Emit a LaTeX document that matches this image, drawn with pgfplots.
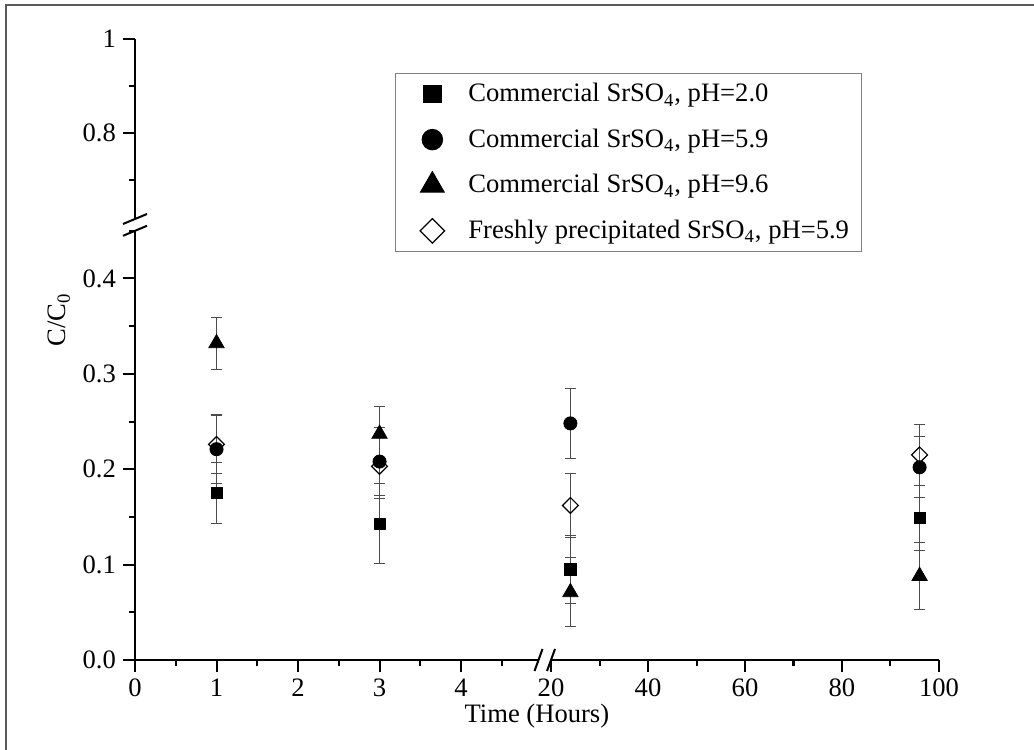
\documentclass[border=0pt]{standalone}
\usepackage{fontspec}
\setmainfont{Liberation Serif}
\usepackage{pgfplots}
\usepackage{pgfplotstable}
\pgfplotsset{compat=1.18}

\pgfplotstableread{
x y e
1 0.175 0.032
3 0.143 0.042
24 0.095 0.036
96 0.149 0.034
}\sqdata
\pgfplotstableread{
x y e
1 0.221 0.036
3 0.208 0.036
24 0.248 0.037
96 0.202 0.032
}\cidata
\pgfplotstableread{
x y e
1 0.332 0.027
3 0.237 0.029
24 0.071 0.036
96 0.088 0.035
}\trdata
\pgfplotstableread{
x y e
1 0.226 0.030
3 0.203 0.034
24 0.162 0.034
96 0.215 0.032
}\didata

\newcommand{\fs}{\fontsize{13.3}{16}\selectfont}
\pgfplotsset{
  base/.style={
    scale only axis,
    anchor=south west,
    tick align=outside,
    axis line style={line width=1.1pt},
    every tick/.style={black, line width=1pt},
    major tick length=6pt,
    minor tick length=3pt,
    font=\fs,
    tick label style={font=\fs},
    /pgf/number format/assume math mode=true,
  },
  serr/.style={error bars/.cd, y dir=both, y explicit,
     error bar style={line width=0.5pt, black!70},
     error mark options={rotate=90, mark size=2.9pt, line width=0.5pt, black!70}},
  psq/.style={only marks, mark=square*, mark size=2.8pt, mark options={fill=black,draw=black}, black},
  pci/.style={only marks, mark=*, mark size=3.3pt, mark options={fill=black,draw=black}, black},
  ptr/.style={only marks, mark=triangle*, mark size=4.4pt, mark options={fill=black,draw=black}, black},
  pdi/.style={only marks, mark=square, mark size=2.8pt, mark options={rotate=45, fill=white,draw=black,line width=0.6pt}, black},
}

\begin{document}
\begin{tikzpicture}
\useasboundingbox (0,0) rectangle (517pt,375pt);
% frame
\draw[black!65, line width=1.2pt] (3pt,0pt) -- (3pt,372.5pt) -- (517pt,372.5pt);

% lower left
\begin{axis}[base,
  at={(67.5pt,45pt)}, width=201.75pt, height=214.65pt,
  axis lines*=left,
  xmin=0, xmax=4.95, ymin=0, ymax=0.45,
  xtick={0,1,2,3,4}, minor xtick={0.5,1.5,2.5,3.5,4.5},
  ytick={0,0.1,0.2,0.3,0.4}, minor ytick={0.05,0.15,0.25,0.35,0.45},
  yticklabel style={/pgf/number format/fixed, /pgf/number format/fixed zerofill, /pgf/number format/precision=1},
  xlabel={Time (Hours)},
  xlabel style={at={(axis description cs:0.996,-0.13)}, anchor=center},
  legend cell align=left,
  legend image code/.code={\path[draw=none,fill=none] (0pt,-3pt) rectangle (30.5pt,3pt);
    \draw[mark repeat=2,mark phase=2,#1,every mark/.append style={scale=1.55}] plot coordinates {(0pt,0pt)(14.5pt,0pt)(29pt,0pt)};},
  legend style={at={(axis description cs:0.644,1.368)}, anchor=north west,
    draw=black!50, line width=0.5pt, fill=white, inner xsep=4pt, inner ysep=3pt,
    row sep=8.1pt, font=\fs},
]
\addplot+[psq, restrict x to domain=0:5, serr] table[x=x,y=y,y error=e] {\sqdata};
\addlegendentry{Commercial SrSO\textsubscript{4}, pH=2.0}
\addplot+[pci, restrict x to domain=0:5, serr] table[x=x,y=y,y error=e] {\cidata};
\addlegendentry{Commercial SrSO\textsubscript{4}, pH=5.9}
\addplot+[ptr, restrict x to domain=0:5, serr] table[x=x,y=y,y error=e] {\trdata};
\addlegendentry{Commercial SrSO\textsubscript{4}, pH=9.6}
\addplot+[pdi, restrict x to domain=0:5, serr] table[x=x,y=y,y error=e] {\didata};
\addlegendentry{Freshly precipitated SrSO\textsubscript{4}, pH=5.9}
\end{axis}

% lower right
\begin{axis}[base,
  at={(275.5pt,45pt)}, width=194pt, height=214.65pt,
  axis x line*=bottom, axis y line=none,
  xmin=20, xmax=100, ymin=0, ymax=0.45,
  xtick={20,40,60,80,100}, minor xtick={30,50,70,90},
]
\addplot+[psq, restrict x to domain=15:101, serr] table[x=x,y=y,y error=e] {\sqdata};
\addplot+[pci, restrict x to domain=15:101, serr] table[x=x,y=y,y error=e] {\cidata};
\addplot+[ptr, restrict x to domain=15:101, serr] table[x=x,y=y,y error=e] {\trdata};
\addplot+[pdi, restrict x to domain=15:101, serr] table[x=x,y=y,y error=e] {\didata};
\end{axis}

% upper
\begin{axis}[base,
  at={(67.5pt,265.5pt)}, width=201.75pt, height=90pt,
  axis x line=none, axis y line*=left,
  xmin=0, xmax=4.95, ymin=0.617, ymax=1,
  ytick={0.8,1}, yticklabels={0.8,1}, minor ytick={0.7,0.9},
]
\end{axis}

% y axis title
\node[rotate=90, font=\fs] at (29.5pt,215pt) {C/C\textsubscript{0}};

% break marks
\draw[black, line width=1pt] (267.25pt,39.5pt) -- (271.25pt,50.5pt);
\draw[black, line width=1pt] (273.5pt,39.5pt) -- (277.5pt,50.5pt);
\draw[black, line width=1pt] (61.5pt,257.1pt) -- (73.5pt,262.1pt);
\draw[black, line width=1pt] (61.5pt,263pt) -- (73.5pt,268pt);
\end{tikzpicture}
\end{document}
